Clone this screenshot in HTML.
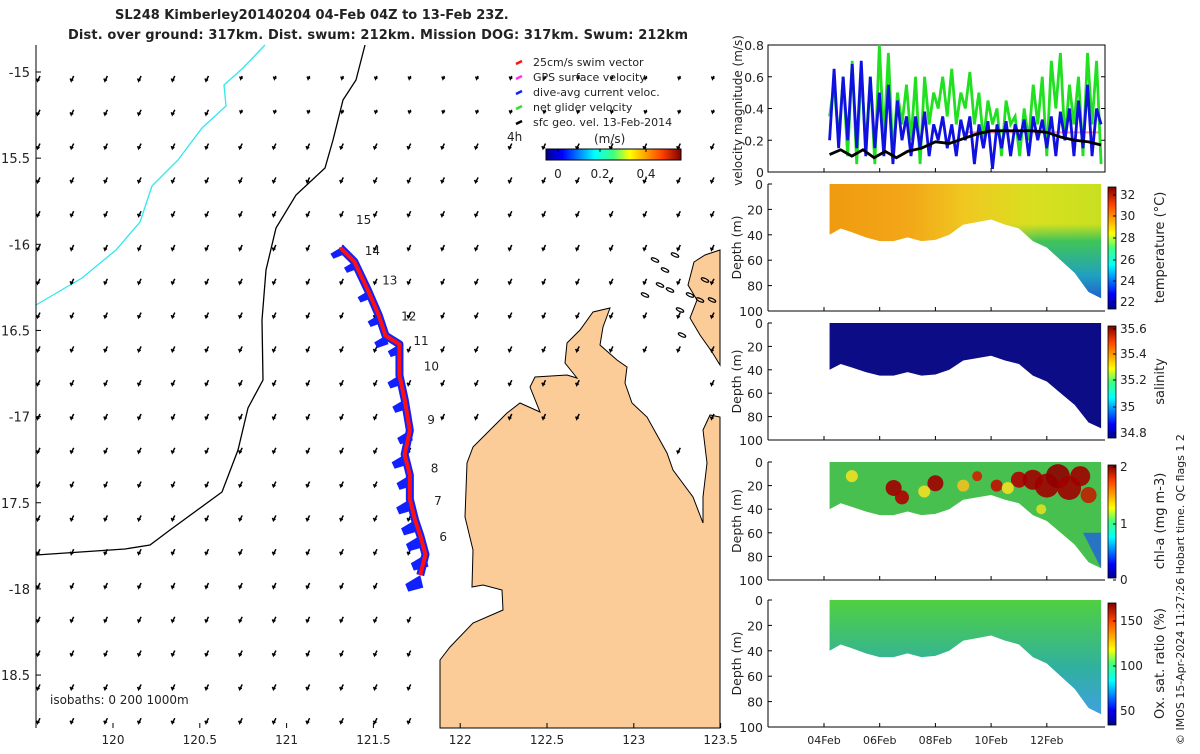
<!DOCTYPE html>
<html><head><meta charset="utf-8">
<style>
html,body{margin:0;padding:0;background:#fff;}
body{width:1200px;height:750px;overflow:hidden;font-family:"DejaVu Sans","Liberation Sans",sans-serif;}
svg text{font-family:"DejaVu Sans","Liberation Sans",sans-serif;fill:#222;}
</style></head>
<body>
<svg id="chart" width="1200" height="750" viewBox="0 0 1200 750" xmlns="http://www.w3.org/2000/svg">
<defs>
<linearGradient id="jet" x1="0" y1="1" x2="0" y2="0">
<stop offset="0" stop-color="#00008f"/><stop offset="0.12" stop-color="#0000ff"/><stop offset="0.36" stop-color="#00ffff"/><stop offset="0.5" stop-color="#40ff80"/><stop offset="0.62" stop-color="#ffff00"/><stop offset="0.86" stop-color="#ff4000"/><stop offset="1" stop-color="#800000"/>
</linearGradient>
<linearGradient id="jeth" x1="0" y1="0" x2="1" y2="0">
<stop offset="0" stop-color="#00008f"/><stop offset="0.12" stop-color="#0000ff"/><stop offset="0.36" stop-color="#00ffff"/><stop offset="0.5" stop-color="#40ff80"/><stop offset="0.62" stop-color="#ffff00"/><stop offset="0.86" stop-color="#ff4000"/><stop offset="1" stop-color="#800000"/>
</linearGradient>
<linearGradient id="tempH" x1="0" y1="0" x2="1" y2="0">
<stop offset="0" stop-color="#f09a10"/><stop offset="0.3" stop-color="#f2a818"/><stop offset="0.5" stop-color="#f0c820"/><stop offset="0.75" stop-color="#d8e020"/><stop offset="1" stop-color="#c8e020"/>
</linearGradient>
<linearGradient id="tempV" x1="0" y1="0" x2="0" y2="1">
<stop offset="0" stop-color="#30c060" stop-opacity="0"/><stop offset="0.35" stop-color="#30c060" stop-opacity="0"/><stop offset="0.5" stop-color="#30c060" stop-opacity="0.9"/><stop offset="0.8" stop-color="#20a0c0" stop-opacity="1"/><stop offset="1" stop-color="#2060d0" stop-opacity="1"/>
</linearGradient>
<linearGradient id="tempMask" x1="0" y1="0" x2="1" y2="0">
<stop offset="0" stop-color="#fff" stop-opacity="0"/><stop offset="0.55" stop-color="#fff" stop-opacity="0"/><stop offset="0.75" stop-color="#fff" stop-opacity="1"/><stop offset="1" stop-color="#fff" stop-opacity="1"/>
</linearGradient>
<mask id="tmask"><rect x="700" y="150" width="450" height="200" fill="url(#tempMask)"/></mask>
<linearGradient id="oxV" x1="0" y1="0" x2="0" y2="1">
<stop offset="0" stop-color="#50d040"/><stop offset="0.3" stop-color="#40c070"/><stop offset="0.6" stop-color="#30b0a0"/><stop offset="1" stop-color="#40a0e0"/>
</linearGradient>
</defs>

<text x="115" y="19" font-size="13" font-weight="bold">SL248 Kimberley20140204 04-Feb 04Z to 13-Feb 23Z.</text>
<text x="68" y="39" font-size="13" font-weight="bold" textLength="620">Dist. over ground: 317km. Dist. swum: 212km. Mission DOG: 317km. Swum: 212km</text>

<g id="map"></g>
<g id="vel"></g>
<g id="sections"></g>

<text transform="translate(1184,745) rotate(-90)" font-size="11">© IMOS 15-Apr-2024 11:27:26 Hobart time. QC flags 1  2</text>
</svg>
<script>
const NS='http://www.w3.org/2000/svg';
function mk(parent,tag,attrs,text){const e=document.createElementNS(NS,tag);for(const k in attrs)e.setAttribute(k,attrs[k]);if(text!==undefined)e.textContent=text;parent.appendChild(e);return e;}

// ---------------- DATA ----------------
const lonTicks=[120,120.5,121,121.5,122,122.5,123,123.5];
const latTicks=[-15,-15.5,-16,-16.5,-17,-17.5,-18,-18.5];
const trackLon=[121.31,121.39,121.47,121.53,121.57,121.65,121.65,121.68,121.71,121.68,121.71,121.71,121.74,121.77,121.80,121.77];
const trackLat=[-16.02,-16.10,-16.27,-16.41,-16.53,-16.58,-16.76,-16.90,-17.08,-17.22,-17.34,-17.48,-17.60,-17.69,-17.80,-17.92];
const dayLabels=['15','14','13','12','11','10','9','8','7','6'];
const dayLabelLon=[121.40,121.45,121.55,121.66,121.73,121.79,121.81,121.83,121.85,121.88];
const dayLabelLat=[-15.86,-16.04,-16.21,-16.42,-16.56,-16.71,-17.02,-17.30,-17.49,-17.70];

const velTicks=[0,0.2,0.4,0.6,0.8];
const dateTicks=[4,6,8,10,12];
const dateTickLabels=['04Feb','06Feb','08Feb','10Feb','12Feb'];
const velStart=4.2, velStep=0.1625;
const netVel=[0.35,0.55,0.2,0.6,0.1,0.7,0.05,0.65,0.15,0.6,0.05,0.8,0.2,0.75,0.1,0.5,0.3,0.55,0.2,0.6,0.05,0.6,0.3,0.5,0.4,0.6,0.35,0.65,0.3,0.5,0.4,0.63,0.3,0.5,0.2,0.45,0.3,0.4,0.1,0.45,0.3,0.35,0.1,0.4,0.2,0.55,0.3,0.6,0.1,0.7,0.4,0.75,0.2,0.55,0.3,0.6,0.1,0.75,0.3,0.7,0.05];
const curVel=[0.2,0.65,0.15,0.6,0.2,0.68,0.15,0.7,0.1,0.6,0.15,0.5,0.1,0.55,0.05,0.45,0.2,0.35,0.1,0.35,0.15,0.38,0.1,0.3,0.2,0.35,0.15,0.3,0.1,0.33,0.2,0.35,0.05,0.3,0.15,0.32,0.02,0.3,0.15,0.32,0.1,0.3,0.2,0.33,0.1,0.35,0.2,0.33,0.15,0.35,0.1,0.38,0.2,0.4,0.1,0.45,0.15,0.55,0.1,0.4,0.3];
const geoDays=[4.2,4.6,5.0,5.4,5.8,6.2,6.6,7.0,7.5,8.0,8.5,9.0,9.5,10.0,10.5,11.0,11.5,12.0,12.5,13.0,13.5,13.95];
const geoVel=[0.11,0.14,0.10,0.14,0.09,0.13,0.09,0.13,0.15,0.19,0.18,0.21,0.24,0.26,0.26,0.26,0.26,0.25,0.22,0.20,0.19,0.17];
const swimDays=[9.0,13.95];
const swimVel=[0.25,0.25];

const bottomDays=[4.2,4.6,5.0,5.5,6.0,6.5,7.0,7.5,8.0,8.5,9.0,9.5,10.0,10.5,11.0,11.5,12.0,12.5,13.0,13.5,13.95];
const bottomDepth=[40,35,38,42,45,45,42,45,44,40,32,30,28,32,35,45,50,60,70,85,90];
const depthTicks=[0,20,40,60,80,100];
const chlDays=[6.5,6.8,8.0,9.5,10.2,11.0,11.5,12.0,12.4,12.8,13.2,13.5,5.0,7.6,9.0,10.6,11.8];
const chlDepth=[22,30,18,12,20,15,15,20,12,22,12,28,12,25,20,22,40];
const chlSize=[8,7,8,5,6,8,10,12,12,12,10,8,6,6,6,6,5];
const chlColor=['#a00000','#b00000','#a00000','#d02000','#c01000','#b00000','#a00000','#a00000','#900000','#a00000','#a00000','#c02000','#f0e020','#f0e020','#f0c020','#f0e020','#e0e020'];

// ---------------- MAP ----------------
const map=document.getElementById('map');
const X=lon=>113+(lon-120)*173.6;
const Y=lat=>72+(-15-lat)*172.3;
const mL=36,mR=720,mT=45,mB=728;
let land=mk(map,'path',{d:'M440,660 L450,647 L473,623 L503,610 L502,590 L483,585 L472,587 L473,550 L465,517 L467,463 L473,447 L490,430 L507,413 L520,403 L540,412 L530,387 L535,377 L567,375 L577,378 L565,363 L567,343 L580,330 L593,312 L610,308 L603,327 L600,345 L617,360 L627,367 L625,383 L632,403 L647,417 L667,453 L673,470 L693,497 L703,523 L703,497 L707,463 L703,430 L710,415 L720,417 L720,728 L440,728 Z',fill:'#fbcb98',stroke:'#000','stroke-width':1});

let isl=mk(map,'path',{d:'M694,262 L705,255 L720,250 L720,365 L712,352 L700,335 L690,318 L697,300 L688,285 Z',fill:'#fbcb98',stroke:'#000','stroke-width':1});

const islPts=[[655,260],[665,270],[675,255],[690,295],[700,300],[680,310],[670,290],[645,295],[660,285],[705,280],[712,300],[682,335]];
islPts.forEach(p=>{mk(map,'ellipse',{cx:p[0],cy:p[1],rx:4,ry:1.5,fill:'none',stroke:'#000','stroke-width':1.2,transform:`rotate(25 ${p[0]} ${p[1]})`});});
let iso200=mk(map,'path',{d:'M365,45 L356,80 L343,100 L333,140 L325,168 L296,195 L276,228 L266,270 L262,320 L263,380 L248,408 L238,450 L222,492 L170,530 L150,545 L125,549 L36,555',fill:'none',stroke:'#000','stroke-width':1.3});

let iso1000=mk(map,'path',{d:'M265,45 L243,68 L224,85 L226,106 L202,128 L178,160 L152,186 L140,222 L116,250 L82,278 L36,305',fill:'none',stroke:'#30e8f0','stroke-width':1.3});

for(let r=0;r<20;r++){for(let c=0;c<21;c++){
  const x=40+c*33.7,y=76+r*33.8;
  if(x>440&&y>418&&x<720){ if(!(x>650&&y<460&&x<700)) continue;}
  if(x>580&&y>370&&x<700&&y<420) continue;
  let len=(r<2&&c>5)?0.6:1;
  const dx=-2.5*len, dy=5*len;
  let a=mk(map,'path',{d:`M${x},${y} l${dx},${dy} l-1,-2.5 m1,2.5 l2,-1.5`,fill:'none',stroke:'#000','stroke-width':1.5});
  
}}
let tpts=trackLon.map((l,i)=>X(l)+','+Y(trackLat[i])).join(' ');
trackLon.forEach((l,i)=>{const x=X(l),y=Y(trackLat[i]);const s=1+i/30;
  let b=mk(map,'path',{d:`M${x},${y} l${-10*s},${6*s} l3,${5*s} l${10*s},-4 z`,fill:'#1020ff'});
  });
let tb=mk(map,'polyline',{points:tpts,fill:'none',stroke:'#1020ff','stroke-width':8,'stroke-linejoin':'round'});

let tr=mk(map,'polyline',{points:tpts,fill:'none',stroke:'#ff1010','stroke-width':4,'stroke-linejoin':'round'});

dayLabels.forEach((d,i)=>{let t=mk(map,'text',{x:X(dayLabelLon[i]),y:Y(dayLabelLat[i])+4,'font-size':12},d);
  });
let t4=mk(map,'text',{x:507,y:141,'font-size':12},'4h');
let ax=mk(map,'line',{x1:mL,y1:mT,x2:mL,y2:mB,stroke:'#000','stroke-width':1});

lonTicks.forEach(l=>{const x=X(l);mk(map,'line',{x1:x,y1:mB,x2:x,y2:mB-5,stroke:'#000'});
  let t=mk(map,'text',{x:x,y:744,'font-size':12,'text-anchor':'middle'},String(l));});
latTicks.forEach(l=>{const y=Y(l);mk(map,'line',{x1:mL,y1:y,x2:mL+5,y2:y,stroke:'#000'});
  let t=mk(map,'text',{x:30,y:y+5,'font-size':13,'text-anchor':'end'},(l%1===0)?String(l):String(-l));
  });
let isoT=mk(map,'text',{x:50,y:704,'font-size':12},'isobaths: 0   200  1000m');
const legItems=[['25cm/s swim vector','#ff1010'],['GPS surface velocity','#ff30ff'],['dive-avg current veloc.','#1020ff'],['net glider velocity','#30e030'],['sfc geo. vel. 13-Feb-2014','#000']];
legItems.forEach((it,i)=>{const y=62+i*15;
  let g=mk(map,'g',{});
  mk(g,'line',{x1:516,y1:y+2,x2:522,y2:y-1,stroke:it[1],'stroke-width':2.5});
  mk(g,'text',{x:533,y:y+4,'font-size':11},it[0]);});
let cbl=mk(map,'text',{x:594,y:143,'font-size':12},'(m/s)');
let cb=mk(map,'rect',{x:546,y:149,width:135,height:11,fill:'url(#jeth)',stroke:'#000','stroke-width':1});

[['0',558],['0.2',600],['0.4',646]].forEach(v=>{mk(map,'line',{x1:v[1],y1:149,x2:v[1],y2:152,stroke:'#000'});
  let t=mk(map,'text',{x:v[1],y:178,'font-size':12,'text-anchor':'middle'},v[0]);});

// ---------------- VELOCITY PANEL ----------------
const pL=768,pR=1105;
const DX=d=>824+(d-4)*27.85;
const vel=document.getElementById('vel');
const vT=45,vB=172;
const VY=v=>vB-(v/0.8)*(vB-vT);
mk(vel,'rect',{x:pL,y:vT,width:pR-pL,height:vB-vT,fill:'#fff',stroke:'#000','stroke-width':1});
velTicks.forEach(v=>{const y=VY(v);mk(vel,'line',{x1:pL,y1:y,x2:pL+4,y2:y,stroke:'#000'});mk(vel,'line',{x1:pR,y1:y,x2:pR-4,y2:y,stroke:'#000'});
  let t=mk(vel,'text',{x:pL-4,y:y+5,'font-size':12.5,'text-anchor':'end'},String(v));});
dateTicks.forEach(d=>{mk(vel,'line',{x1:DX(d),y1:vB,x2:DX(d),y2:vB-4,stroke:'#000'});});
let sw=mk(vel,'polyline',{points:swimDays.map((d,i)=>DX(d)+','+VY(swimVel[i])).join(' '),fill:'none',stroke:'#ff9090','stroke-width':2});

let gl=mk(vel,'polyline',{points:netVel.map((v,i)=>DX(velStart+i*velStep)+','+VY(v)).join(' '),fill:'none',stroke:'#20e020','stroke-width':2.8});

let bl=mk(vel,'polyline',{points:curVel.map((v,i)=>DX(velStart+i*velStep)+','+VY(v)).join(' '),fill:'none',stroke:'#1010e0','stroke-width':2.8});

let kl=mk(vel,'polyline',{points:geoDays.map((d,i)=>DX(d)+','+VY(geoVel[i])).join(' '),fill:'none',stroke:'#000','stroke-width':2.8});

let vyl=mk(vel,'text',{transform:`translate(742,${(vT+vB)/2+2}) rotate(-90)`,'font-size':12,'text-anchor':'middle'},'velocity magnitude (m/s)');


// ---------------- SECTIONS ----------------
const sec=document.getElementById('sections');
const panels=[
 {top:184,bot:311,name:'temperature',label:'temperature (°C)',cticks:[['32',195],['30',216],['28',238],['26',260],['24',281],['22',302]]},
 {top:323,bot:440,name:'salinity',label:'salinity',cticks:[['35.6',329],['35.4',354],['35.2',380],['35',407],['34.8',433]]},
 {top:462,bot:580,name:'chlorophyll',label:'chl-a (mg m-3)',cticks:[['2',467],['1',524],['0',580]]},
 {top:600,bot:727,name:'oxygen',label:'Ox. sat. ratio (%)',cticks:[['150',621],['100',666],['50',711]]}
];
panels.forEach((p,pi)=>{
  const g=mk(sec,'g',{});
  const DY=z=>p.top+(z/100)*(p.bot-p.top);
  const area='M'+DX(bottomDays[0])+','+p.top+' '+bottomDays.map((d,i)=>'L'+DX(d)+','+DY(bottomDepth[i])).join(' ')+' L'+DX(bottomDays[bottomDays.length-1])+','+p.top+' Z';
  if(pi===0){mk(g,'path',{d:area,fill:'url(#tempH)'});mk(g,'path',{d:area,fill:'url(#tempV)',mask:'url(#tmask)'});}
  if(pi===1){mk(g,'path',{d:area,fill:'#0c0c86'});}
  if(pi===2){mk(g,'path',{d:area,fill:'#48c050'});
    chlDays.forEach((d,i)=>{let c=mk(g,'circle',{cx:DX(d),cy:DY(chlDepth[i]),r:chlSize[i],fill:chlColor[i],opacity:0.9});});
    mk(g,'path',{d:'M'+DX(13.3)+','+DY(60)+' L'+DX(13.95)+','+DY(60)+' L'+DX(13.95)+','+DY(90)+' Z',fill:'#2060e0',opacity:0.8});}
  if(pi===3){mk(g,'path',{d:area,fill:'url(#oxV)'});}
  mk(g,'line',{x1:pL,y1:p.top,x2:pL,y2:p.bot,stroke:'#000'});
  mk(g,'line',{x1:pL,y1:p.bot,x2:pR,y2:p.bot,stroke:'#000'});
  depthTicks.forEach(z=>{const y=DY(z);mk(g,'line',{x1:pL,y1:y,x2:pL+4,y2:y,stroke:'#000'});
    let t=mk(g,'text',{x:pL-5,y:y+5,'font-size':12.5,'text-anchor':'end'},String(z));});
  dateTicks.forEach(d=>{mk(g,'line',{x1:DX(d),y1:p.bot,x2:DX(d),y2:p.bot-4,stroke:'#000'});});
  let yl=mk(g,'text',{transform:`translate(741,${(p.top+p.bot)/2}) rotate(-90)`,'font-size':12.5,'text-anchor':'middle'},'Depth (m)');
  
  let cbr=mk(g,'rect',{x:1108,y:p.top+3,width:8,height:p.bot-p.top-5,fill:'url(#jet)',stroke:'#000','stroke-width':0.8});
  
  p.cticks.forEach(c=>{mk(g,'line',{x1:1113,y1:c[1],x2:1116,y2:c[1],stroke:'#000'});
    let t=mk(g,'text',{x:1120,y:c[1]+4,'font-size':12},c[0]);});
  let cl=mk(g,'text',{transform:`translate(1164,${(p.top+p.bot)/2}) rotate(-90)`,'font-size':13,'text-anchor':'middle'},p.label);
  
});
dateTicks.forEach((d,i)=>{let t=mk(sec,'text',{x:DX(d),y:744,'font-size':11,'text-anchor':'middle'},dateTickLabels[i]);
  });
</script>
</body></html>
